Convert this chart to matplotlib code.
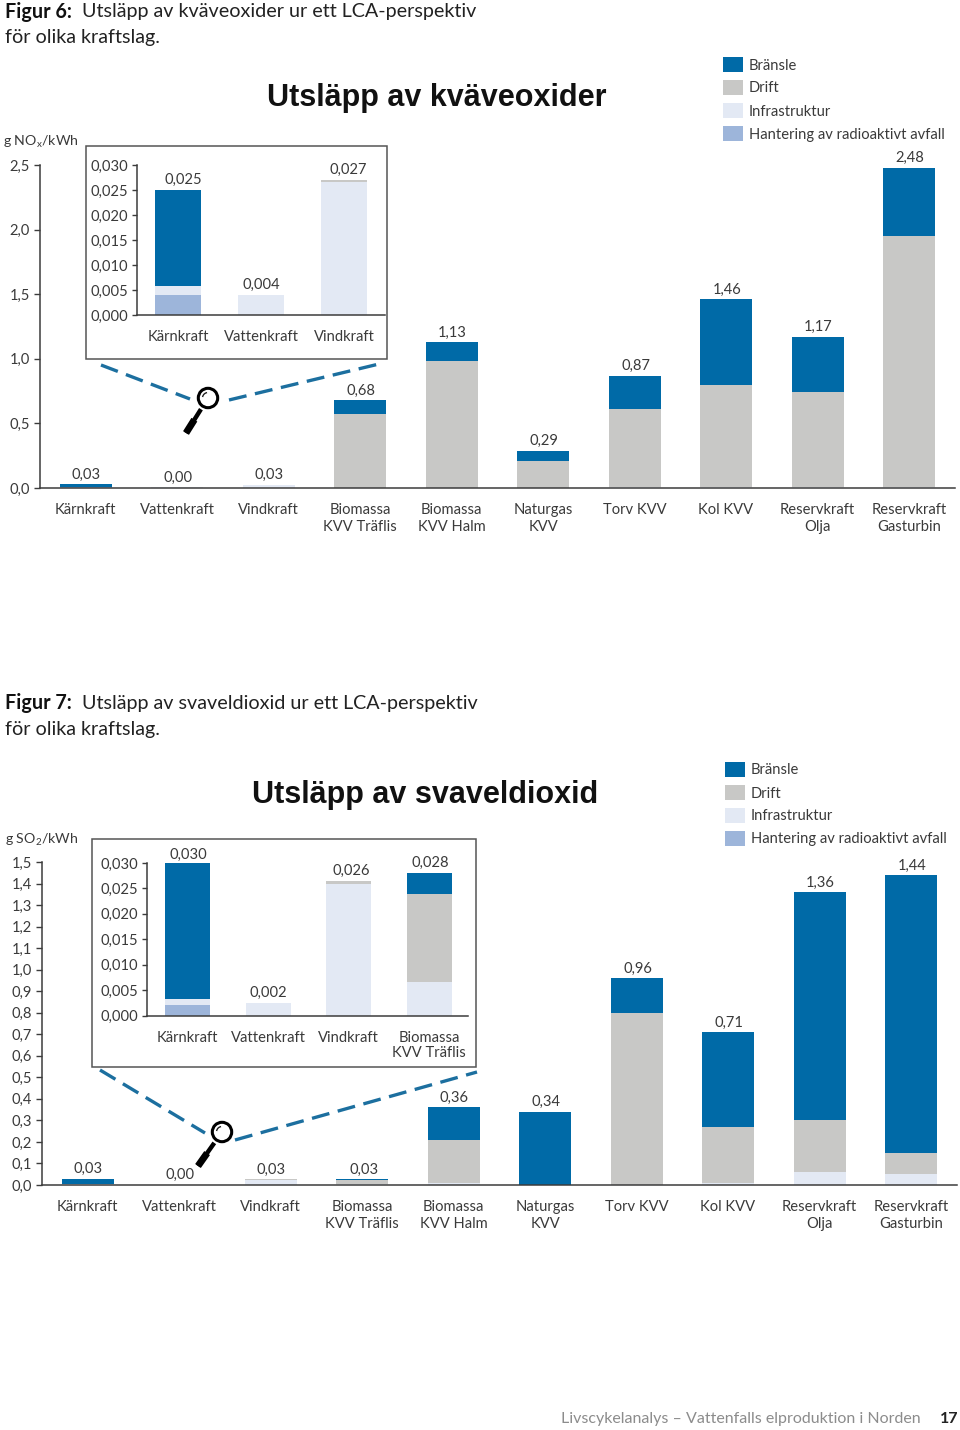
# Utslapp av NOx och SO2 - LCA per kraftslag

import matplotlib
matplotlib.use('Agg')
import matplotlib.pyplot as plt
from matplotlib.patches import Rectangle, Circle, Arc

plt.rcParams['font.family'] = ['Lato', 'DejaVu Sans']
plt.rcParams['mathtext.default'] = 'regular'

# =========================================
# Data

categories = ['Kärnkraft', 'Vattenkraft', 'Vindkraft', 'Biomassa\nKVV Träflis', 'Biomassa\nKVV Halm',
              'Naturgas\nKVV', 'Torv KVV', 'Kol KVV', 'Reservkraft\nOlja', 'Reservkraft\nGasturbin']
series_names = ['Bränsle', 'Drift', 'Infrastruktur', 'Hantering av radioaktivt avfall']

nox_labels = ['0,03', '0,00', '0,03', '0,68', '1,13', '0,29', '0,87', '1,46', '1,17', '2,48']
nox_fuel = [0.025, 0.0, 0.0, 0.108, 0.147, 0.08, 0.26, 0.66, 0.43, 0.53]
nox_drift = [0.0, 0.0, 0.001, 0.57, 0.98, 0.21, 0.60, 0.79, 0.73, 1.94]
nox_infra = [0.002, 0.004, 0.026, 0.002, 0.003, 0.0, 0.01, 0.01, 0.01, 0.01]
nox_waste = [0.004, 0.0, 0.0, 0.0, 0.0, 0.0, 0.0, 0.0, 0.0, 0.0]

so2_labels = ['0,03', '0,00', '0,03', '0,03', '0,36', '0,34', '0,96', '0,71', '1,36', '1,44']
so2_fuel = [0.027, 0.0, 0.0, 0.004, 0.153, 0.34, 0.16, 0.44, 1.06, 1.29]
so2_drift = [0.0, 0.0, 0.001, 0.018, 0.2, 0.0, 0.80, 0.26, 0.24, 0.10]
so2_infra = [0.001, 0.002, 0.025, 0.006, 0.007, 0.0, 0.0, 0.01, 0.06, 0.05]
so2_waste = [0.002, 0.0, 0.0, 0.0, 0.0, 0.0, 0.0, 0.0, 0.0, 0.0]

nox_inset_cats = ['Kärnkraft', 'Vattenkraft', 'Vindkraft']
nox_inset_labels = ['0,025', '0,004', '0,027']
nox_inset_fuel = [0.0192, 0.0, 0.0]
nox_inset_drift = [0.0, 0.0, 0.0004]
nox_inset_infra = [0.0018, 0.004, 0.0266]
nox_inset_waste = [0.004, 0.0, 0.0]

so2_inset_cats = ['Kärnkraft', 'Vattenkraft', 'Vindkraft', 'Biomassa\nKVV Träflis']
so2_inset_labels = ['0,030', '0,002', '0,026', '0,028']
so2_inset_fuel = [0.0267, 0.0, 0.0, 0.004]
so2_inset_drift = [0.0, 0.0, 0.0006, 0.0175]
so2_inset_infra = [0.0013, 0.0024, 0.0258, 0.0065]
so2_inset_waste = [0.002, 0.0, 0.0, 0.0]

nox_ticks = [0.0, 0.5, 1.0, 1.5, 2.0, 2.5]
so2_ticks = [0.0, 0.1, 0.2, 0.3, 0.4, 0.5, 0.6, 0.7, 0.8, 0.9, 1.0, 1.1, 1.2, 1.3, 1.4, 1.5]
inset_ticks = [0.0, 0.005, 0.010, 0.015, 0.020, 0.025, 0.030]

# =========================================
# Style

BLUE = '#006aa7'
GREY = '#c8c8c6'
LIGHT = '#e3e9f4'
WASTE = '#9db5da'
TEXT = '#3a3a3a'
AXIS = '#3c3c3c'
DASH = '#1c6f9f'
colors = [BLUE, GREY, LIGHT, WASTE]

W, H = 960, 1430
FS = 10.6
TITLE_FONT = ['Liberation Sans', 'DejaVu Sans']

fig = plt.figure(figsize=(W / 100, H / 100), dpi=100)
fig.patch.set_facecolor('white')


def px_axes(left, right, top, bottom, zorder=2):
    ax = fig.add_axes([left / W, 1 - bottom / H, (right - left) / W, (bottom - top) / H], zorder=zorder)
    ax.patch.set_alpha(0)
    return ax


# Overlay in pixel coordinates for headings, legend boxes and the magnifier
over = fig.add_axes([0, 0, 1, 1], zorder=1)
over.set_xlim(0, W)
over.set_ylim(H, 0)
over.axis('off')
top_over = fig.add_axes([0, 0, 1, 1], zorder=5)
top_over.set_xlim(0, W)
top_over.set_ylim(H, 0)
top_over.axis('off')


def stacked(ax, fuel, drift, infra, waste, width):
    x = list(range(len(fuel)))
    bottom = [0.0] * len(fuel)
    for vals, c in zip([waste, infra, drift, fuel], [WASTE, LIGHT, GREY, BLUE]):
        ax.bar(x, vals, width, bottom=bottom, color=c, linewidth=0)
        bottom = [b + v for b, v in zip(bottom, vals)]
    return x, bottom


def style_axes(ax, tick_len, tick_pad):
    ax.tick_params(axis='y', length=tick_len, width=1, color=AXIS, pad=tick_pad)
    ax.tick_params(axis='x', length=0, pad=11)
    for s in ['top', 'right']:
        ax.spines[s].set_visible(False)
    for s in ['left', 'bottom']:
        ax.spines[s].set_color(AXIS)
        ax.spines[s].set_linewidth(1.1)


def main_chart(box, ymax, ticks, fuel, drift, infra, waste, labels, label_dx):
    left, right, top, bottom = box
    ax = px_axes(left, right, top, bottom)
    # category pitch is about 91.5 px, first bar 45.5 px right of the axis
    pitch = 91.5
    ax.set_xlim(-45.5 / pitch, (right - left - 45.5) / pitch)
    ax.set_ylim(0, ymax)
    x, totals = stacked(ax, fuel, drift, infra, waste, 52 / pitch)
    for i, t, lab, dx in zip(x, totals, labels, label_dx):
        ax.annotate(lab, (i, t), xytext=(dx * 0.72, 1.8), textcoords='offset points',
                    ha='center', va='bottom', fontsize=FS, color=TEXT)
    ax.set_yticks(ticks)
    ax.set_yticklabels([('%.1f' % t).replace('.', ',') for t in ticks], fontsize=FS, color=TEXT)
    ax.set_xticks(x)
    ax.set_xticklabels(categories, fontsize=FS, color=TEXT, linespacing=1.25)
    style_axes(ax, 4.3, 3)
    return ax


def inset_chart(frame, box, pitch, first, width, cats, fuel, drift, infra, waste, labels, label_dx, label_dy):
    fl, fr, ft, fb = frame
    over.add_patch(Rectangle((fl, ft), fr - fl, fb - ft, fc='white', ec='#555555', lw=1.1))
    left, right, top, bottom = box
    ax = px_axes(left, right, top, bottom, zorder=3)
    ax.set_xlim(-first / pitch, (right - left - first) / pitch)
    ax.set_ylim(0, 0.030)
    x, totals = stacked(ax, fuel, drift, infra, waste, width / pitch)
    for i, t, lab, dx, dy in zip(x, totals, labels, label_dx, label_dy):
        ax.annotate(lab, (i, t), xytext=(dx * 0.72, dy), textcoords='offset points',
                    ha='center', va='bottom', fontsize=FS, color=TEXT, annotation_clip=False)
    ax.set_yticks(inset_ticks)
    ax.set_yticklabels([('%.3f' % t).replace('.', ',') for t in inset_ticks], fontsize=FS, color=TEXT)
    ax.set_xticks(x)
    ax.set_xticklabels(cats, fontsize=FS, color=TEXT, linespacing=1.15)
    style_axes(ax, 3.6, 2.5)
    return ax


def magnifier(cx, cy, hx, hy):
    dx, dy = hx - cx, hy - cy
    sx, sy = cx + dx * 0.32, cy + dy * 0.32
    top_over.plot([sx, hx], [sy, hy], color='black', lw=3.2, solid_capstyle='butt')
    mx, my = cx + dx * 0.62, cy + dy * 0.62
    top_over.plot([mx, hx], [my, hy], color='black', lw=5, solid_capstyle='butt')
    top_over.add_patch(Circle((cx, cy), 9.7, fc='white', ec='black', lw=2.2))
    # ylim is inverted, so these angles run clockwise on screen from the left side
    top_over.add_patch(Arc((cx, cy), 11, 11, theta1=190, theta2=260, color='#222222', lw=1))


def legend(x, y0, step):
    for i, (name, c) in enumerate(zip(series_names, colors)):
        y = y0 + i * step
        over.add_patch(Rectangle((x, y - 7.5), 20, 15, fc=c, ec='none'))
        over.text(x + 26, y + 1.5, name, fontsize=FS, color=TEXT, va='center', ha='left')


def heading(y, num, rest1, rest2):
    over.text(5, y, num, fontsize=14.2, fontweight='bold', color='#111111', va='center')
    over.text(82, y, rest1, fontsize=14.2, color='#222222', va='center')
    over.text(5, y + 26, rest2, fontsize=14.2, color='#222222', va='center')


def dashed(x0, y0, x1, y1):
    top_over.plot([x0, x1], [y0, y1], color=DASH, lw=2.4, dashes=(5.4, 2.6))


# =========================================
# Figur 6

heading(12, 'Figur 6:', 'Utsläpp av kväveoxider ur ett LCA-perspektiv', 'för olika kraftslag.')
over.text(437, 98, 'Utsläpp av kväveoxider', fontsize=22, fontweight='bold', family=TITLE_FONT,
          color='#111111', ha='center', va='center')
over.text(3, 142, 'g NO$_x$/kWh', fontsize=10.2, color=TEXT, va='center')
legend(723, 64, 23)
main_chart((40, 955, 165, 488), 2.5, nox_ticks, nox_fuel, nox_drift, nox_infra, nox_waste,
           nox_labels, [1, 1, 1, 1, 1, 1, 1, 1, 1, 1])
inset_chart((86, 387, 146, 359), (137, 385, 165, 315), 83, 41, 46, nox_inset_cats,
            nox_inset_fuel, nox_inset_drift, nox_inset_infra, nox_inset_waste, nox_inset_labels,
            [5, 0, 4], [2.5, 2.5, 2.5])
dashed(101, 365, 190, 399)
dashed(229, 400, 379, 364)
magnifier(208, 398, 186, 433)

# =========================================
# Figur 7

heading(703, 'Figur 7:', 'Utsläpp av svaveldioxid ur ett LCA-perspektiv', 'för olika kraftslag.')
over.text(425, 795, 'Utsläpp av svaveldioxid', fontsize=22, fontweight='bold', family=TITLE_FONT,
          color='#111111', ha='center', va='center')
over.text(5, 840, 'g SO$_2$/kWh', fontsize=10.2, color=TEXT, va='center')
legend(725, 769, 23)
main_chart((42, 957, 862, 1185), 1.5, so2_ticks, so2_fuel, so2_drift, so2_infra, so2_waste,
           so2_labels, [1, 1, 1, 2, 1, 1, 1, 1, 1, 1])
inset_chart((92, 476, 839, 1067), (147, 468, 863, 1015.5), 80.5, 40.5, 45, so2_inset_cats,
            so2_inset_fuel, so2_inset_drift, so2_inset_infra, so2_inset_waste, so2_inset_labels,
            [1, 0, 3, 1], [0.5, 2.5, 2.5, 2.5])
dashed(100, 1070, 205, 1133)
dashed(235, 1140, 477, 1072)
magnifier(222, 1132, 198, 1166)

# Footer
over.text(921, 1419, 'Livscykelanalys – Vattenfalls elproduktion i Norden', fontsize=11.5, color='#8c8c8c',
          ha='right', va='center')
over.text(958, 1419, '17', fontsize=11.5, fontweight='bold', color='#222222', ha='right', va='center')

fig.savefig('out.png', dpi=100)
